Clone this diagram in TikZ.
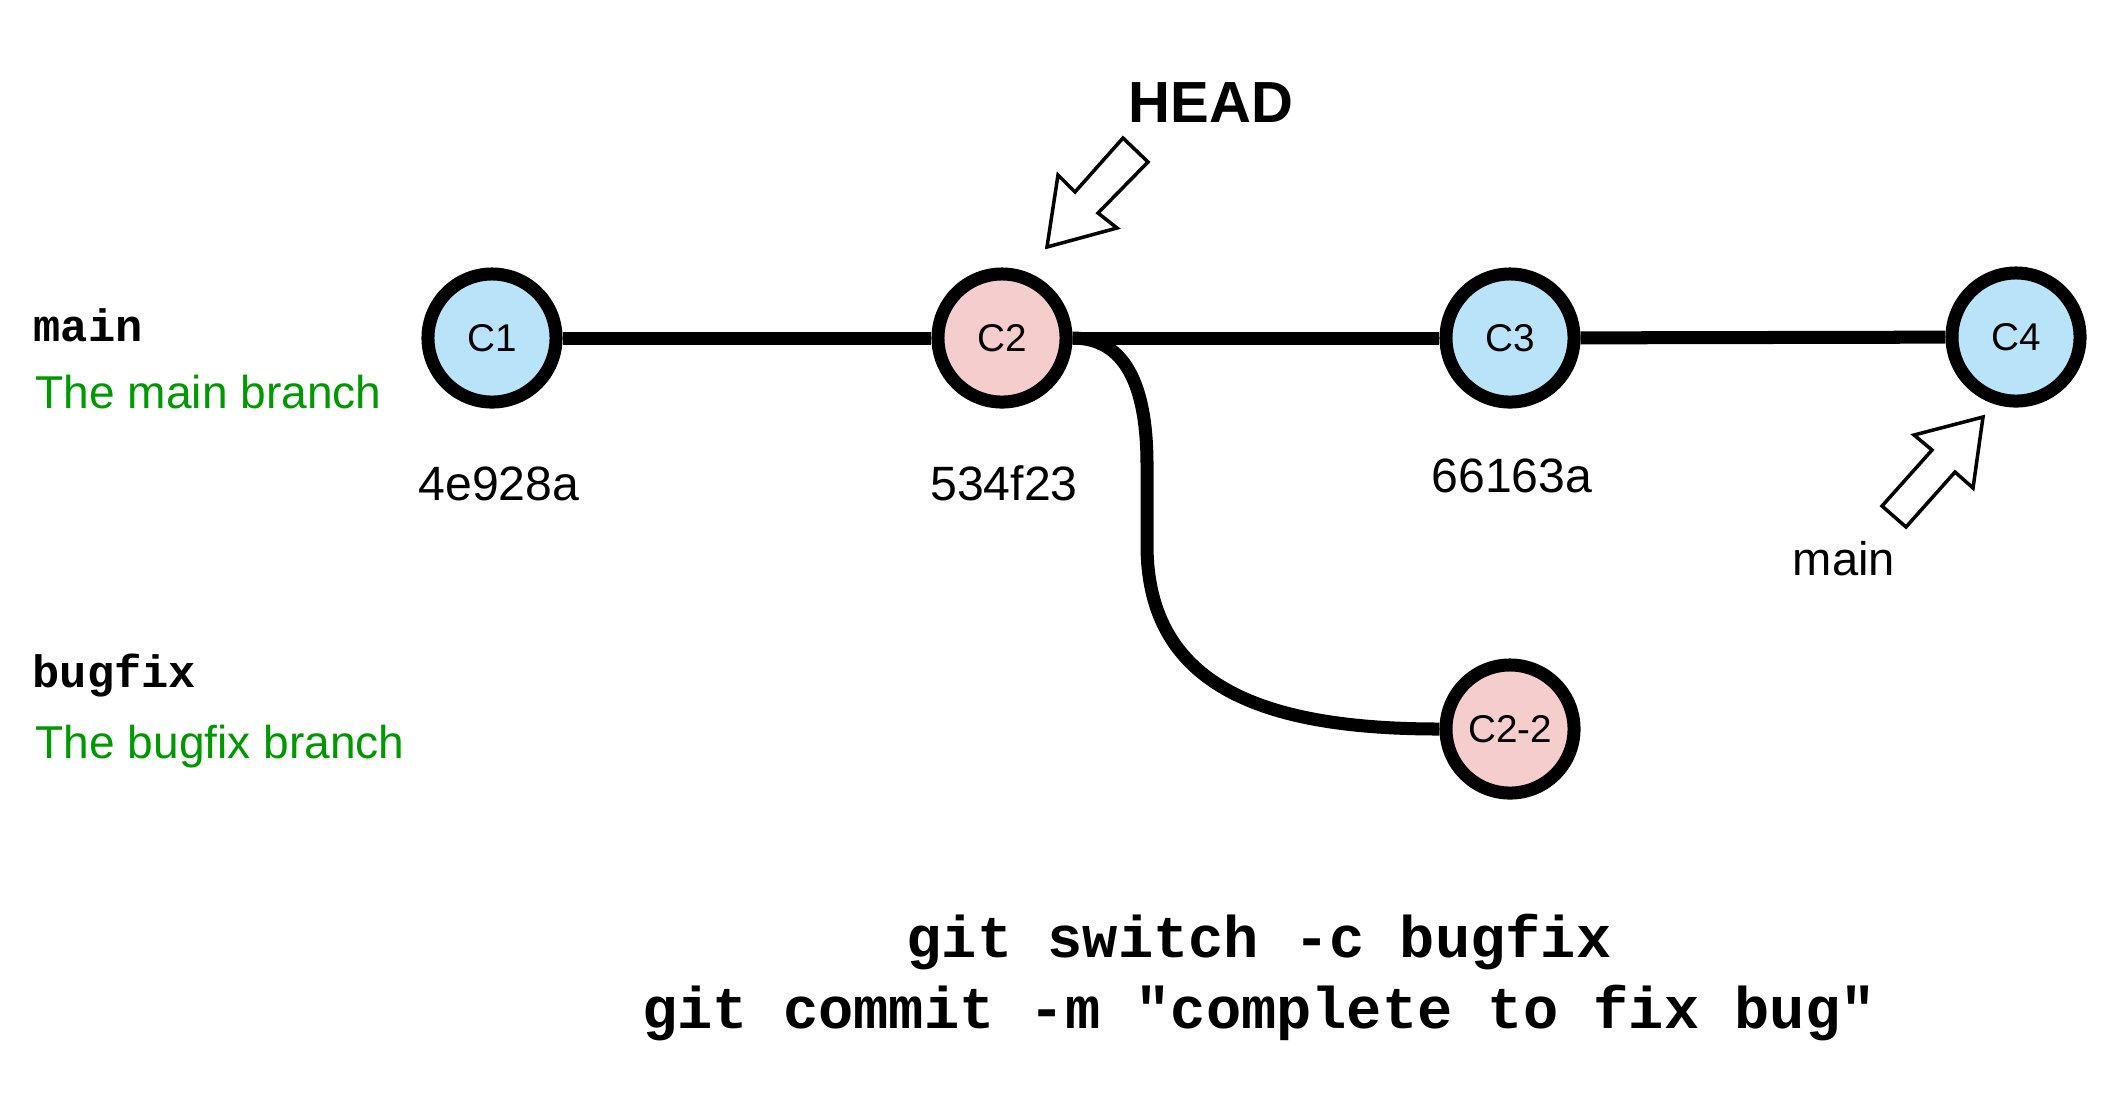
\documentclass[tikz,border=0pt]{standalone}
\usepackage{fontspec}
\setmainfont{Liberation Sans}
\newfontfamily\monob{Liberation Mono}[BoldFont=* Bold]
\usetikzlibrary{backgrounds}
\definecolor{nodeblue}{HTML}{B9E3F9}
\definecolor{nodepink}{HTML}{F5CDCD}
\definecolor{labelgreen}{HTML}{009900}
\begin{document}
\begin{tikzpicture}[x=0.01cm,y=-0.01cm,
  commit/.style={circle,draw=black,line width=3.7pt,minimum size=1.28cm,inner sep=0pt,
    font=\fontsize{11pt}{13pt}\selectfont},
  mainc/.style={commit,fill=nodeblue},
  bugc/.style={commit,fill=nodepink},
  edge/.style={line width=3.7pt,draw=black},
  hash/.style={anchor=base,font=\fontsize{13.7pt}{16pt}\selectfont},
  brname/.style={anchor=base west,inner sep=0pt,font=\fontsize{12.9pt}{15pt}\selectfont\monob\bfseries},
  brdesc/.style={anchor=base west,inner sep=0pt,text=labelgreen,font=\fontsize{13.1pt}{16pt}\selectfont},
  cmd/.style={anchor=base,font=\fontsize{16.7pt}{20pt}\selectfont\monob\bfseries},
  blockarrow/.style={draw=black,fill=white,line width=1pt,line join=miter}
]
\useasboundingbox (0,0) rectangle (2121,1111);

% commits
\node[mainc] (c1) at (492,338) {C1};
\node[bugc]  (c2) at (1002,338) {C2};
\node[mainc] (c3) at (1510,338) {C3};
\node[mainc] (c4) at (2016,337) {C4};
\node[bugc]  (c22) at (1510,729) {C2-2};

% connectors
\begin{scope}[on background layer]
\draw[edge] (c1) -- (c2);
\draw[edge] (c2) -- (c3);
\draw[edge] (c3) -- (c4);
\draw[edge] (c2.east) .. controls (1125,338) and (1147,385) .. (1147,465)
  -- (1147,545) .. controls (1147,690) and (1270,729) .. (c22.west);
\end{scope}

% hashes
\node[hash] (h1) at (499,500) {4e928a};
\node[hash] (h2) at (1004,500) {534f23};
\node[hash] (h3) at (1512,492) {66163a};

% branch legend
\node[brname] (lmain) at (33,341) {main};
\node[brdesc] (dmain) at (35,408) {The main branch};
\node[brname] (lbug) at (32,687) {bugfix};
\node[brdesc] (dbug) at (35,758) {The bugfix branch};

% HEAD pointer
\node[anchor=base,font=\fontsize{16.5pt}{20pt}\selectfont\bfseries] (head) at (1211,122) {HEAD};
\draw[blockarrow] (1047,247) -- (1058,175) -- (1075,192) -- (1123,138) -- (1148,162)
  -- (1098,213) -- (1117,228) -- cycle;

% main pointer
\draw[blockarrow] (1983,417) -- (1914,435) -- (1932,450) -- (1882,506) -- (1906,527)
  -- (1955,472) -- (1973,488) -- cycle;
\node[anchor=base,font=\fontsize{13.4pt}{16pt}\selectfont] (mainlbl) at (1844,575) {main};

% commands
\node[cmd] (cmd1) at (1259,957) {git switch -c bugfix};
\node[cmd] (cmd2) at (1259,1028) {git commit -m "complete to fix bug"};
\end{tikzpicture}
\end{document}
